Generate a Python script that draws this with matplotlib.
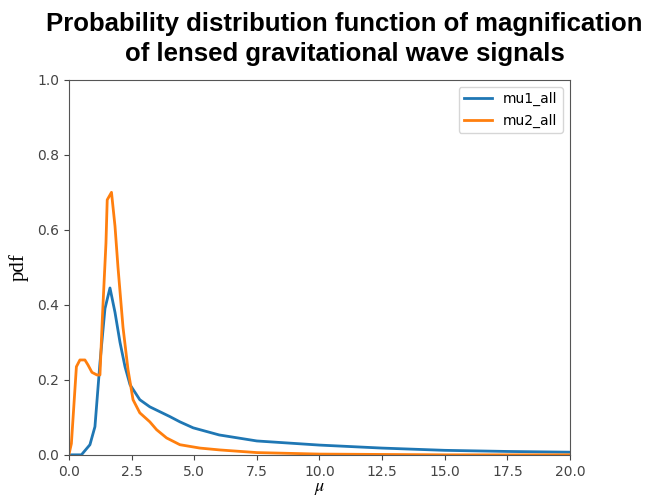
import matplotlib
matplotlib.use("Agg")
import matplotlib.pyplot as plt

plt.rcParams['mathtext.fontset'] = 'stix'

# magnification grid and pdf values
mu1_x = [0.0, 0.5, 0.84, 1.04, 1.24, 1.44, 1.64, 1.84, 2.04, 2.24, 2.44, 2.83,
         3.23, 3.63, 4.03, 4.43, 4.96, 6.0, 7.5, 10.0, 12.5, 15.0, 17.5, 20.0]
mu1_pdf = [0.0, 0.0, 0.027, 0.075, 0.245, 0.39, 0.445, 0.38, 0.30, 0.235, 0.187, 0.147,
           0.128, 0.115, 0.102, 0.088, 0.072, 0.053, 0.037, 0.026, 0.018, 0.012, 0.009, 0.007]

mu2_x = [0.0, 0.1, 0.3, 0.44, 0.64, 0.76, 0.92, 1.12, 1.24, 1.34, 1.48, 1.53, 1.70,
         1.84, 1.96, 2.16, 2.36, 2.56, 2.83, 3.23, 3.5, 3.9, 4.43, 5.23, 6.03,
         7.5, 10.0, 12.5, 15.0, 20.0]
mu2_pdf = [0.0, 0.03, 0.235, 0.253, 0.253, 0.24, 0.22, 0.213, 0.213, 0.37, 0.565, 0.68, 0.70,
           0.61, 0.50, 0.34, 0.227, 0.147, 0.112, 0.088, 0.067, 0.045, 0.027, 0.018, 0.013,
           0.006, 0.002, 0.001, 0.0, 0.0]

fig = plt.figure(figsize=(6.56, 4.96), dpi=100)
ax = fig.add_axes([0.105, 0.083, 0.764, 0.756])

ax.plot(mu1_x, mu1_pdf, color='tab:blue', lw=2, label='mu1_all')
ax.plot(mu2_x, mu2_pdf, color='tab:orange', lw=2, label='mu2_all')

ax.set_xlim(0, 20)
ax.set_ylim(0, 1.0)
ax.set_xticks([0, 2.5, 5, 7.5, 10, 12.5, 15, 17.5, 20])
ax.set_xticklabels(['0.0', '2.5', '5.0', '7.5', '10.0', '12.5', '15.0', '17.5', '20.0'])
ax.set_yticks([0, 0.2, 0.4, 0.6, 0.8, 1.0])
ax.tick_params(colors='#444444', labelsize=10)
for s in ax.spines.values():
    s.set_color('#555555')

ax.set_xlabel(r'$\mu$', fontsize=13, labelpad=0)
ax.set_ylabel('pdf', fontsize=15, family='Liberation Serif', labelpad=6)
ax.legend(loc='upper right', fontsize=10)

fig.text(0.525, 0.975, 'Probability distribution function of magnification\nof lensed gravitational wave signals',
         ha='center', va='top', fontsize=18.5, fontweight='bold', family='Liberation Sans',
         fontstretch='normal', linespacing=1.3)

plt.savefig('out.png', dpi=100)
